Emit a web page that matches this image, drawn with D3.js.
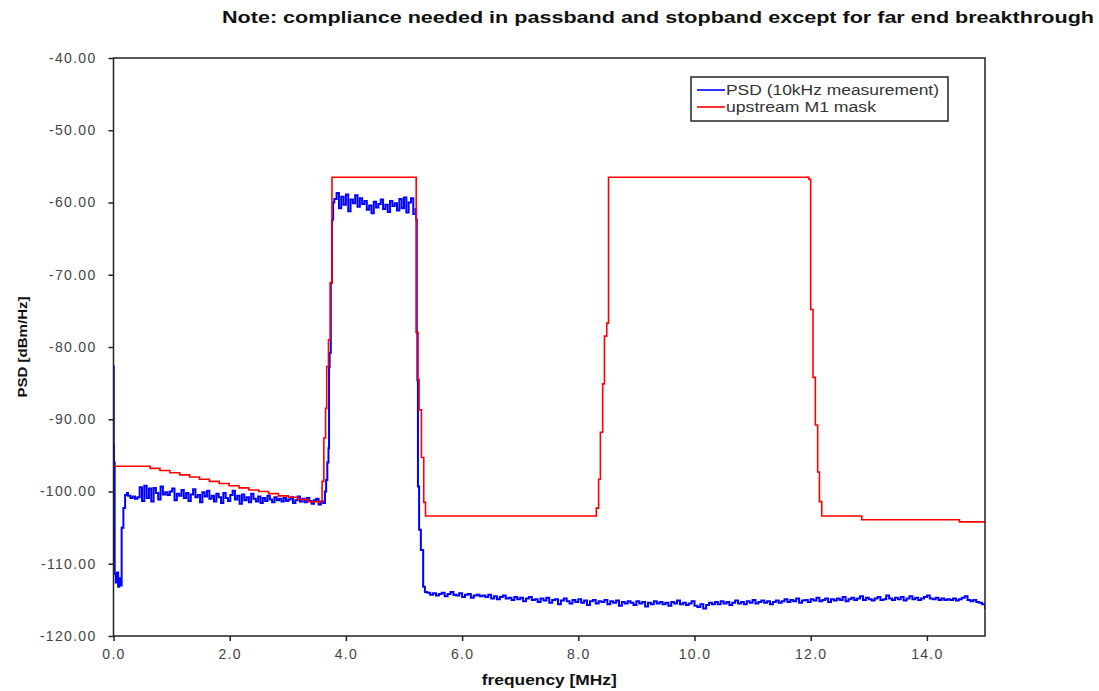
<!DOCTYPE html>
<html>
<head>
<meta charset="utf-8">
<script src="https://cdnjs.cloudflare.com/ajax/libs/d3/7.8.5/d3.min.js"></script>
<style>
  body { margin: 0; background: #fff; }
  svg text { font-family: "Liberation Sans", Arial, sans-serif; }
</style>
</head>
<body>
<div id="vis"></div>
<script>
//Chart texts
var chartTitle = "Note: compliance needed in passband and stopband except for far end breakthrough";
var xTitle = "frequency [MHz]";
var yTitle = "PSD [dBm/Hz]";
var seriesNames = ["PSD (10kHz measurement)", "upstream M1 mask"];

//Tick values
var xTicks = [0, 2, 4, 6, 8, 10, 12, 14];
var yTicks = [-120, -110, -100, -90, -80, -70, -60, -50, -40];

//upstream M1 mask: level starts at the given frequency (MHz), dBm/Hz
var maskFreq = [0.00, 0.63, 0.80, 0.97, 1.14, 1.31, 1.48, 1.65, 1.82, 1.99, 2.16, 2.33, 2.50, 2.67, 2.84, 3.01, 3.18, 3.35,
                3.59, 3.62, 3.65, 3.67, 3.70, 3.73, 3.76,
                5.21, 5.24, 5.26, 5.30, 5.34, 5.37,
                8.31, 8.35, 8.38, 8.42, 8.45, 8.49, 8.52,
                11.97, 12.00, 12.04, 12.08, 12.12, 12.15, 12.19, 12.88, 14.56, 15.00];
var maskPsd = [-96.5, -96.8, -97.1, -97.4, -97.7, -98.0, -98.3, -98.6, -98.9, -99.2, -99.5, -99.8, -100.0, -100.3, -100.6, -100.8, -101.1, -101.4,
               -98.6, -92.6, -88.5, -82.7, -79.0, -71.1, -56.5,
               -78.0, -84.5, -88.7, -95.3, -101.5, -103.4,
               -102.3, -98.3, -91.8, -85.1, -78.5, -76.7, -56.5,
               -56.8, -74.8, -84.2, -90.8, -97.3, -101.4, -103.4, -103.9, -104.2, -104.2];

//PSD measurement, band edges (MHz, dBm/Hz)
var edgeLowFreq = [0.000, 0.004, 0.008, 0.020, 0.040, 0.060, 0.080, 0.100, 0.120, 0.140, 0.170, 0.200, 0.230];
var edgeLowPsd = [-82.7, -93.5, -96.0, -111.4, -112.6, -111.2, -113.2, -112.0, -113.0, -105.0, -102.3, -100.5, -100.2];

var riseFreq = [3.61, 3.64, 3.66, 3.68, 3.70, 3.71, 3.72, 3.74, 3.76, 3.78];
var risePsd = [-101.6, -100.0, -98.4, -96.0, -94.0, -82.8, -80.8, -71.1, -62.4, -60.0];

var fallFreq = [5.21, 5.22, 5.23, 5.24, 5.26, 5.29, 5.33, 5.36];
var fallPsd = [-62.4, -78.0, -84.6, -99.3, -105.3, -108.1, -113.2, -113.9];

//PSD measurement, noisy plateaus (start MHz, step MHz, values dBm/Hz)
var lowBandStart = 0.25, lowBandStep = 0.04;
var lowBandPsd = [
  -100.6, -100.9, -100.7, -101.0, -100.8, -99.4, -101.3, -99.2, -100.9, -99.6,
  -101.4, -99.5, -100.2, -101.1, -99.3, -100.4, -100.1, -100.5, -100.0, -99.6,
  -101.2, -100.3, -100.6, -99.8, -100.9, -100.2, -101.3, -100.4, -99.7, -100.8,
  -100.5, -101.5, -100.1, -100.7, -99.9, -101.0, -100.6, -101.4, -100.3, -100.8,
  -101.6, -100.2, -100.9, -101.3, -100.5, -99.9, -101.1, -100.6, -101.7, -100.4,
  -101.2, -100.8, -101.5, -100.3, -101.0, -101.4, -100.7, -101.6, -100.9, -101.3,
  -100.6, -101.1, -101.5, -100.8, -101.2, -101.0, -101.4, -100.9, -101.3, -101.1,
  -100.8, -101.6, -101.2, -100.7, -101.4, -101.0, -101.5, -100.9, -101.3, -101.7,
  -101.2, -101.0, -101.8, -101.4];

var passBandStart = 3.80, passBandStep = 0.04;
var passBandPsd = [
  -59.5, -58.7, -60.8, -59.2, -60.3, -58.9, -61.2, -59.6, -60.1, -59.0,
  -60.6, -59.4, -60.2, -59.8, -61.0, -60.4, -61.5, -59.9, -60.7, -60.2,
  -59.6, -60.9, -60.3, -61.3, -59.8, -60.5, -60.1, -61.1, -59.5, -60.8,
  -59.3, -61.4, -60.0, -59.4, -61.6, -60.9];

var stopBandStart = 5.40, stopBandStep = 0.05;
var stopBandPsd = [
  -114.0, -114.3, -114.1, -114.4, -114.2, -114.0, -114.5, -114.2, -113.9, -114.3,
  -114.4, -114.1, -114.6, -114.3, -114.2, -114.7, -114.4, -114.3, -114.5, -114.4,
  -114.6, -114.3, -114.8, -114.5, -114.9, -114.6, -114.4, -114.8, -114.7, -115.0,
  -114.6, -114.9, -114.7, -115.2, -114.8, -114.6, -115.0, -114.9, -115.3, -114.8,
  -115.1, -114.7, -115.4, -115.0, -114.9, -115.6, -115.1, -114.8, -115.2, -115.5,
  -115.0, -115.3, -114.9, -115.4, -115.1, -115.7, -115.2, -115.0, -115.5, -115.2,
  -115.3, -115.0, -115.6, -115.2, -115.4, -115.1, -115.8, -115.3, -115.5, -115.2,
  -115.4, -115.7, -115.2, -115.5, -115.3, -115.9, -115.4, -115.6, -115.2, -115.5,
  -115.3, -115.6, -115.4, -115.8, -115.3, -115.5, -115.1, -115.6, -115.4, -115.7,
  -115.5, -115.2, -115.8, -116.0, -115.6, -116.2, -115.7, -115.4, -115.6, -115.3,
  -115.6, -115.2, -115.5, -115.3, -115.7, -115.4, -115.1, -115.5, -115.3, -115.6,
  -115.2, -115.4, -115.0, -115.5, -115.3, -115.1, -115.4, -115.2, -115.6, -115.3,
  -115.1, -115.4, -115.2, -114.9, -115.3, -115.0, -115.2, -114.8, -115.4, -115.1,
  -115.0, -115.3, -114.9, -115.1, -114.7, -115.2, -115.0, -114.8, -115.3, -114.9,
  -115.1, -114.8, -115.0, -114.6, -115.2, -114.9, -114.7, -115.0, -114.8, -114.5,
  -115.0, -114.7, -114.9, -115.1, -114.8, -114.6, -115.0, -114.9, -114.4, -114.8,
  -115.0, -114.7, -114.9, -114.6, -115.1, -114.8, -114.5, -114.9, -114.7, -115.0,
  -114.8, -114.6, -114.4, -114.8, -114.9, -114.7, -115.0, -114.8, -115.0, -114.9,
  -115.0, -114.8, -115.1, -114.9, -114.7, -114.5, -115.0, -115.2, -115.0, -115.3,
  -115.4, -115.6, -116.3];

//Plot geometry
var width = 1099, height = 691;
var plot = {left: 113.5, right: 985, top: 58, bottom: 636};

var svgCanvas = d3.select("#vis")
                  .append("svg")
                  .attr("width", width)
                  .attr("height", height);

var xScale = d3.scaleLinear().domain([0, 15]).range([plot.left, plot.right]);
var yScale = d3.scaleLinear().domain([-120, -40]).range([plot.bottom, plot.top]);

//Building the PSD series from its pieces
function plateau(start, step, values) {
  return values.map(function(v, i) { return {f: start + i * step, v: v}; });
}
function pairs(freqs, values) {
  return freqs.map(function(f, i) { return {f: f, v: values[i]}; });
}
var psdData = [].concat(
  pairs(edgeLowFreq, edgeLowPsd),
  plateau(lowBandStart, lowBandStep, lowBandPsd),
  pairs(riseFreq, risePsd),
  plateau(passBandStart, passBandStep, passBandPsd),
  pairs(fallFreq, fallPsd),
  plateau(stopBandStart, stopBandStep, stopBandPsd)
);
var maskData = pairs(maskFreq, maskPsd);

//Clip to plot area
svgCanvas.append("clipPath").attr("id", "plotClip")
  .append("rect")
  .attr("x", plot.left).attr("y", plot.top)
  .attr("width", plot.right - plot.left).attr("height", plot.bottom - plot.top);

var lineGen = d3.line()
  .x(function(d) { return xScale(d.f); })
  .y(function(d) { return yScale(d.v); })
  .curve(d3.curveStepAfter);

svgCanvas.append("path")
  .datum(psdData)
  .attr("clip-path", "url(#plotClip)")
  .attr("fill", "none")
  .attr("stroke", "#0000ff")
  .attr("stroke-width", 2)
  .attr("d", lineGen);

svgCanvas.append("path")
  .datum(maskData)
  .attr("clip-path", "url(#plotClip)")
  .attr("fill", "none")
  .attr("stroke", "#ff0000")
  .attr("stroke-width", 1.6)
  .attr("d", lineGen);

//Frame of the plot
svgCanvas.append("rect")
  .attr("x", plot.left).attr("y", plot.top)
  .attr("width", plot.right - plot.left).attr("height", plot.bottom - plot.top)
  .attr("fill", "none")
  .attr("stroke", "#222")
  .attr("stroke-width", 1.5);

//Axes
var xAxis = svgCanvas.append("g")
  .attr("transform", "translate(0," + plot.bottom + ")")
  .call(d3.axisBottom(xScale).tickValues(xTicks).tickFormat(d3.format(".1f")).tickSize(5).tickPadding(8));
var yAxis = svgCanvas.append("g")
  .attr("transform", "translate(" + plot.left + ",0)")
  .call(d3.axisLeft(yScale).tickValues(yTicks).tickFormat(function(d) { return d3.format(".2f")(d).replace("−", "-"); }).tickSize(5).tickPadding(12));

[xAxis, yAxis].forEach(function(ax) {
  ax.select(".domain").remove();
  ax.selectAll(".tick line").attr("stroke", "#222").attr("stroke-width", 1.5);
  ax.selectAll(".tick text")
    .attr("fill", "#444")
    .style("font-size", "14px")
    .style("letter-spacing", "1.3px")
    .style("font-family", "'Liberation Sans', Arial, sans-serif");
});

//Titles
svgCanvas.append("text")
  .attr("x", 1094).attr("y", 23)
  .attr("text-anchor", "end")
  .attr("textLength", 872)
  .attr("lengthAdjust", "spacingAndGlyphs")
  .style("font-size", "16px")
  .style("font-weight", "bold")
  .attr("fill", "#111")
  .text(chartTitle);

svgCanvas.append("text")
  .attr("x", (plot.left + plot.right) / 2).attr("y", 685)
  .attr("text-anchor", "middle")
  .attr("textLength", 135)
  .attr("lengthAdjust", "spacingAndGlyphs")
  .style("font-size", "14px")
  .style("font-weight", "bold")
  .attr("fill", "#111")
  .text(xTitle);

svgCanvas.append("text")
  .attr("transform", "translate(27," + (plot.top + plot.bottom) / 2 + ") rotate(-90)")
  .attr("text-anchor", "middle")
  .attr("textLength", 101)
  .attr("lengthAdjust", "spacingAndGlyphs")
  .style("font-size", "13px")
  .style("font-weight", "bold")
  .attr("fill", "#111")
  .text(yTitle);

//Legend
var legend = svgCanvas.append("g").attr("transform", "translate(691,77)");
legend.append("rect")
  .attr("width", 257).attr("height", 44)
  .attr("fill", "#fff")
  .attr("stroke", "#222")
  .attr("stroke-width", 1.5);
var legendColors = ["#0000ff", "#ff0000"];
var legendWidths = [213, 150];
seriesNames.forEach(function(name, i) {
  var yy = 13 + i * 17;
  legend.append("line")
    .attr("x1", 6).attr("x2", 34).attr("y1", yy).attr("y2", yy)
    .attr("stroke", legendColors[i]).attr("stroke-width", 1.6);
  legend.append("text")
    .attr("x", 35).attr("y", yy + 5)
    .attr("textLength", legendWidths[i])
    .attr("lengthAdjust", "spacingAndGlyphs")
    .style("font-size", "14px")
    .attr("fill", "#333")
    .text(name);
});
</script>
</body>
</html>
